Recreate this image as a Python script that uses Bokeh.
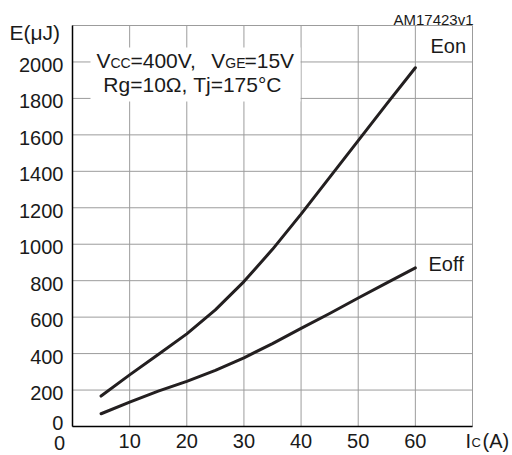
from bokeh.plotting import figure
from bokeh.models import Range1d, LinearAxis, FixedTicker, Label, BoxAnnotation
from bokeh.embed import file_html
from bokeh.resources import INLINE

# Switching energy vs collector current
ic = [5, 10, 15, 20, 25, 30, 35, 40, 45, 50, 55, 60]
eon = [167, 283, 395, 508, 640, 795, 972, 1165, 1367, 1568, 1770, 1968]
eoff = [70, 134, 194, 248, 308, 377, 455, 538, 620, 705, 788, 870]

x_ticks = [10, 20, 30, 40, 50, 60]
y_ticks = [200, 400, 600, 800, 1000, 1200, 1400, 1600, 1800, 2000]
x_max = 70
y_max = 2200

FONT = "Liberation Sans"
INK = "#1a1a1a"
CURVE = "#231f20"
GRID = "#9c9c9c"

# the frame fills the canvas; axes sit at fixed locations inside it so that
# titles placed around the plot area are not clipped
p = figure(width=512, height=455, output_backend="svg", toolbar_location=None,
           x_range=Range1d(-12.6, 77.0), y_range=Range1d(-159.1, 2337.2),
           x_axis_location=None, y_axis_location=None,
           min_border=0)
p.center = []
p.background_fill_color = "white"
p.border_fill_color = "white"
p.outline_line_color = None

# grid lines and the top/right border of the plot area
p.segment(x0=x_ticks, x1=x_ticks, y0=[0] * len(x_ticks), y1=[y_max] * len(x_ticks),
          line_color=GRID, line_width=1)
p.segment(x0=[0] * len(y_ticks), x1=[x_max] * len(y_ticks), y0=y_ticks, y1=y_ticks,
          line_color=GRID, line_width=1)
p.quad(left=[0], right=[x_max], bottom=[0], top=[y_max],
       fill_color=None, line_color=GRID, line_width=1)

# x axis along E = 0
xax = LinearAxis(fixed_location=0, bounds=(0, x_max), ticker=FixedTicker(ticks=x_ticks),
                 axis_line_color="black", axis_line_width=1.5,
                 major_tick_line_color=None, minor_tick_line_color=None,
                 major_tick_out=0, major_tick_in=0, major_label_standoff=7,
                 major_label_text_font=FONT, major_label_text_font_size="20px",
                 major_label_text_color=INK)
p.add_layout(xax, "below")

# y axis along Ic = 0; its labels use a range offset a few pixels downward
p.extra_y_ranges = {"lbl": Range1d(-142.6, 2353.7)}
yax = LinearAxis(y_range_name="lbl", fixed_location=0, bounds=(16.5, 2216.5),
                 ticker=FixedTicker(ticks=y_ticks),
                 axis_line_color="black", axis_line_width=1.5,
                 major_tick_line_color=None, minor_tick_line_color=None,
                 major_tick_out=0, major_tick_in=0, major_label_standoff=9,
                 major_label_text_font=FONT, major_label_text_font_size="20px",
                 major_label_text_color=INK)
p.add_layout(yax, "left")

# curves
p.line(ic, eon, line_color=CURVE, line_width=3, line_join="round", line_cap="round")
p.line(ic, eoff, line_color=CURVE, line_width=3, line_join="round", line_cap="round")

# white panel behind the test conditions
p.add_layout(BoxAnnotation(left=3.15, right=39.9, bottom=1783, top=2079,
                           fill_color="white", fill_alpha=1.0, line_color=None))


def txt(x, y, s, size="20px", align="left"):
    p.add_layout(Label(x=x, y=y, text=s, text_font=FONT, text_font_size=size,
                       text_color=INK, text_align=align,
                       text_baseline="middle"))


# test conditions (small-cap subscripts share the baseline of the main text)
txt(4.2, 2008, "V", "21px")
txt(6.65, 1994, "CC", "14px")
txt(10.15, 2008, "=400V,", "21px")
txt(24.3, 2008, "V", "21px")
txt(26.75, 1994, "GE", "14px")
txt(30.1, 2008, "=15V", "21px")
txt(21.5, 1876, "Rg=10\u03a9,  Tj=175\u00b0C", "21px", "center")

# curve names
txt(62.65, 2090, "Eon")
txt(62.3, 889, "Eoff")

# axis titles, corner zeros and figure code
txt(-11.03, 2164, "E(\u03bcJ)", "21px")
txt(68.78, -77, "I")
txt(69.83, -89, "C", "13px")
txt(71.75, -77, "(A)")
txt(-2.28, -88, "0", "20px", "center")
txt(-1.58, 19, "0", "20px", "right")
txt(70.18, 2233, "AM17423v1", "15px", "right")

open("out.html", "w").write(file_html(p, INLINE))
